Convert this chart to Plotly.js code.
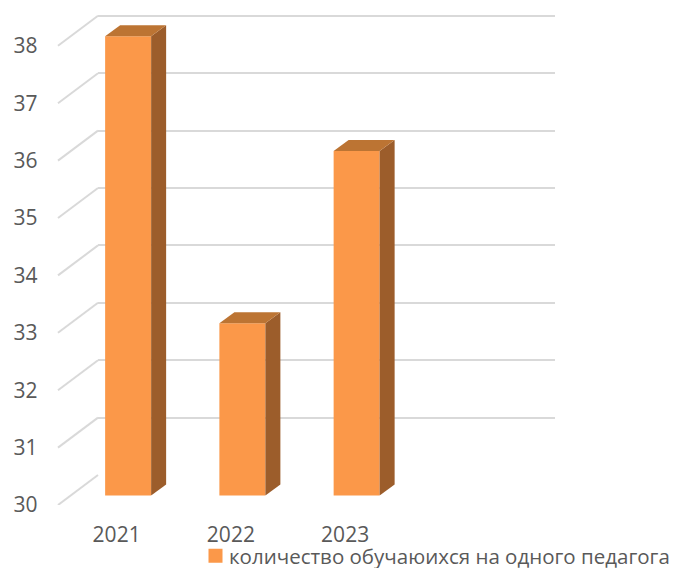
<!DOCTYPE html>
<html><head><meta charset="utf-8">
<script src="https://cdn.plot.ly/plotly-3.0.1.min.js"></script>
<style>html,body{margin:0;padding:0;background:#fff}</style></head>
<body><div id="chart" style="width:676px;height:568px"></div>
<script>
const years = [2021, 2022, 2023];
const seriesName = 'количество обучаюихся на одного педагога';
const values = [38, 33, 36];
const gridTicks = [30, 31, 32, 33, 34, 35, 36, 37, 38];

const W = 676, H = 568, pxUnit = 57.4, pxCat = 114.25;
const yBase = 30, xLo = 2020.5, xHi = 2024.5;
const faceFront = '#FB9849', faceTop = '#BC7433', faceSide = '#9C5D2B';
const grid = '#D9D9D9', text = '#595959';

// three parallel planes of the 3D frame: px position of x range start, px of y=30, headroom above 38
function xDom(left) { return [left / W, (left + 4 * pxCat) / W]; }
function yDom(y30, top) { return [1 - y30 / H, 1 - (y30 - (top - yBase) * pxUnit) / H]; }
const common = { fixedrange: true, zeroline: false, showline: false };
const cx = { range: [xLo, xHi], type: 'linear', fixedrange: true, zeroline: false, showgrid: false, showline: false };

const depthX = 15 / pxCat, depthY = 11 / pxUnit, halfW = 23 / pxCat;
const wallDY = 30 / pxUnit;
const shapes = [];
gridTicks.forEach(v => shapes.push({
  type: 'line', layer: 'below', xref: 'paper', yref: 'y3',
  x0: 58 / W, x1: 98 / W, y0: v, y1: v + wallDY, line: { color: grid, width: 2 }
}));
years.forEach((yr, i) => {
  const v = values[i], r = yr + halfW, l = yr - halfW;
  shapes.push({ type: 'path', layer: 'above', xref: 'x2', yref: 'y2', line: { width: 0 }, fillcolor: faceSide,
    path: `M${r},${yBase} L${r + depthX},${yBase + depthY} L${r + depthX},${v + depthY} L${r},${v} Z` });
  shapes.push({ type: 'path', layer: 'above', xref: 'x2', yref: 'y2', line: { width: 0 }, fillcolor: faceTop,
    path: `M${l},${v} L${l + depthX},${v + depthY} L${r + depthX},${v + depthY} L${r},${v} Z` });
});

const traces = [
  { type: 'scatter', x: [], y: [], xaxis: 'x', yaxis: 'y', showlegend: false, hoverinfo: 'skip' },
  { type: 'bar', name: seriesName, x: years, y: values, xaxis: 'x2', yaxis: 'y2', width: 46 / pxCat,
    marker: { color: faceFront, line: { width: 0 } } },
  { type: 'scatter', x: [], y: [], xaxis: 'x3', yaxis: 'y3', showlegend: false, hoverinfo: 'skip' }
];

const layout = {
  width: W, height: H, margin: { l: 0, r: 0, t: 0, b: 0, autoexpand: false }, paper_bgcolor: '#fff', plot_bgcolor: 'rgba(0,0,0,0)',
  font: { family: '"Open Sans", sans-serif', color: text, size: 20 },
  showlegend: true,
  legend: { orientation: 'h', x: 195.5 / W, xanchor: 'left', y: 1 - 536 / H, yanchor: 'top',
    font: { size: 20.5, color: text }, bgcolor: 'rgba(0,0,0,0)', itemclick: false, itemdoubleclick: false },
  // back wall: gridlines
  xaxis: Object.assign({}, cx, { domain: xDom(98), anchor: 'y', showticklabels: false, ticks: '' }),
  yaxis: Object.assign({}, common, { range: [yBase, 38.1], domain: yDom(475, 38.1), anchor: 'x', tickmode: 'array', tickvals: gridTicks,
    showgrid: true, gridcolor: grid, gridwidth: 2, showticklabels: false, ticks: '' }),
  // bar plane
  xaxis2: Object.assign({}, cx, { domain: xDom(71), anchor: 'y2', showticklabels: false, ticks: '' }),
  yaxis2: Object.assign({}, common, { range: [yBase, 38.5], domain: yDom(495.5, 38.5), anchor: 'x2', showgrid: false, showticklabels: false, ticks: '' }),
  // front plane: tick labels
  xaxis3: Object.assign({}, cx, { domain: xDom(59.5), anchor: 'y3', tickmode: 'array', tickvals: years, ticktext: years.map(String),
    ticks: '', ticklabelstandoff: 15, tickfont: { size: 21, color: text } }),
  yaxis3: Object.assign({}, common, { range: [yBase, 38.6], domain: yDom(505, 38.6), anchor: 'x3', tickmode: 'array', tickvals: gridTicks,
    showgrid: false, ticks: '', ticklabelstandoff: 21, tickfont: { size: 21, color: text } }),
  shapes: shapes
};
Plotly.newPlot('chart', traces, layout, { displayModeBar: false, staticPlot: true }).then(() => {
  // Excel's legend key sits closer to its text and is slightly larger than Plotly's default
  document.querySelectorAll('.legendtext').forEach(t => t.setAttribute('x', parseFloat(t.getAttribute('x')) - 6.5));
  document.querySelectorAll('.legendpoints path').forEach(p => p.setAttribute('d', 'M7,7H-7V-7H7Z'));
});
</script></body></html>
